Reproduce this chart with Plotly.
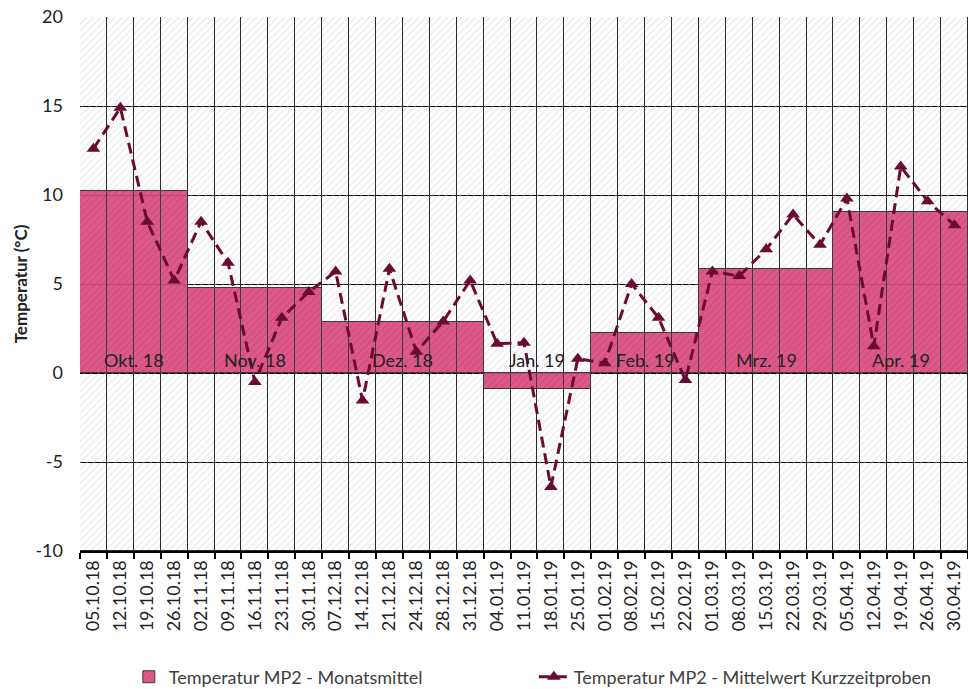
import plotly.graph_objects as go

# ---- data ----
dates = ["05.10.18", "12.10.18", "19.10.18", "26.10.18", "02.11.18", "09.11.18",
         "16.11.18", "23.11.18", "30.11.18", "07.12.18", "14.12.18", "21.12.18",
         "24.12.18", "28.12.18", "31.12.18", "04.01.19", "11.01.19", "18.01.19",
         "25.01.19", "01.02.19", "08.02.19", "15.02.19", "22.02.19", "01.03.19",
         "08.03.19", "15.03.19", "22.03.19", "29.03.19", "05.04.19", "12.04.19",
         "19.04.19", "26.04.19", "30.04.19"]
short_term = [12.6, 14.9, 8.5, 5.2, 8.5, 6.2, -0.5, 3.1, 4.55, 5.7, -1.55, 5.85,
              1.2, 2.9, 5.2, 1.65, 1.7, -6.4, 0.8, 0.55, 5.0, 3.1, -0.4, 5.7,
              5.45, 6.95, 8.9, 7.2, 9.8, 1.5, 11.6, 9.65, 8.3]
months = ["Okt. 18", "Nov. 18", "Dez. 18", "Jan. 19", "Feb. 19", "Mrz. 19", "Apr. 19"]
month_means = [10.25, 4.8, 2.85, -0.9, 2.25, 5.85, 9.05]
month_counts = [4, 5, 6, 4, 4, 5, 5]
y_ticks = [-10, -5, 0, 5, 10, 15, 20]
y_tick_labels = ["-10", "-5", "0", "5", "10", "15", "20"]
y_min, y_max = -10, 20

# monthly mean repeated for each sample date of its month
monthly_per_date = []
for m, c in zip(month_means, month_counts):
    monthly_per_date += [m] * c

fig = go.Figure()

# hatched background
fig.add_trace(go.Bar(
    x=dates, y=[y_max - y_min] * len(dates), base=[y_min] * len(dates),
    width=1, showlegend=False, hoverinfo="skip",
    marker=dict(color="rgba(0,0,0,0)",
                pattern=dict(shape="/", fgcolor="#d4d4d4", bgcolor="rgba(255,255,255,0)",
                             size=5, solidity=0.25),
                line=dict(color="#2a2a2a", width=1)),
))

# monthly means
fig.add_trace(go.Bar(
    x=dates, y=monthly_per_date, width=1,
    name="Temperatur MP2 - Monatsmittel",
    marker=dict(color="rgba(214,62,118,0.9)",
                pattern=dict(shape="/", fgcolor="rgba(195,50,105,0.9)",
                             bgcolor="rgba(216,72,124,0.9)", size=5, solidity=0.2),
                line=dict(color="#3a3a3a", width=1)),
))

# short-term samples
fig.add_trace(go.Scatter(
    x=dates, y=short_term, mode="lines+markers",
    name="Temperatur MP2 - Mittelwert Kurzzeitproben",
    line=dict(color="#6B0A33", width=3, dash="11px,6px"),
    marker=dict(symbol="triangle-up", size=12, color="#6B0A33"),
))

# month labels
start = 0
for name, c in zip(months, month_counts):
    fig.add_annotation(x=start + (c - 1) / 2, y=0.75, text=name, showarrow=False,
                       font=dict(size=18, color="#222222", family="Lato"),
                       xref="x", yref="y")
    start += c

fig.update_layout(
    width=968, height=689,
    margin=dict(l=80, r=0, t=17, b=138, autoexpand=False),
    paper_bgcolor="white", plot_bgcolor="white",
    barmode="overlay", bargap=0,
    font=dict(family="Lato", color="#404040"),
    legend=dict(orientation="h", x=0.055, xanchor="left", y=-0.236, yanchor="middle",
                font=dict(size=18, color="#404040"), entrywidth=360,
                traceorder="normal"),
    showlegend=True,
)
fig.update_xaxes(type="category", tickson="boundaries", ticks="outside", ticklen=6,
                 tickcolor="black", tickwidth=2, showline=True, linecolor="black",
                 linewidth=2, showgrid=False, tickangle=-90,
                 tickfont=dict(size=18, color="#222222"), range=[-0.5, len(dates) - 0.5])
fig.update_yaxes(range=[y_min, y_max], tickvals=y_ticks, ticktext=y_tick_labels,
                 showgrid=True, gridcolor="black",
                 gridwidth=1, zeroline=False, showline=False, ticklabelstandoff=16,
                 tickfont=dict(size=18, color="#222222"),
                 title=dict(text="<b>Temperatur (°C)</b>", font=dict(size=17, color="#222222"),
                            standoff=3))

fig.write_html("out.html", config={"displayModeBar": False},
               post_script="document.body.style.margin='0';")
